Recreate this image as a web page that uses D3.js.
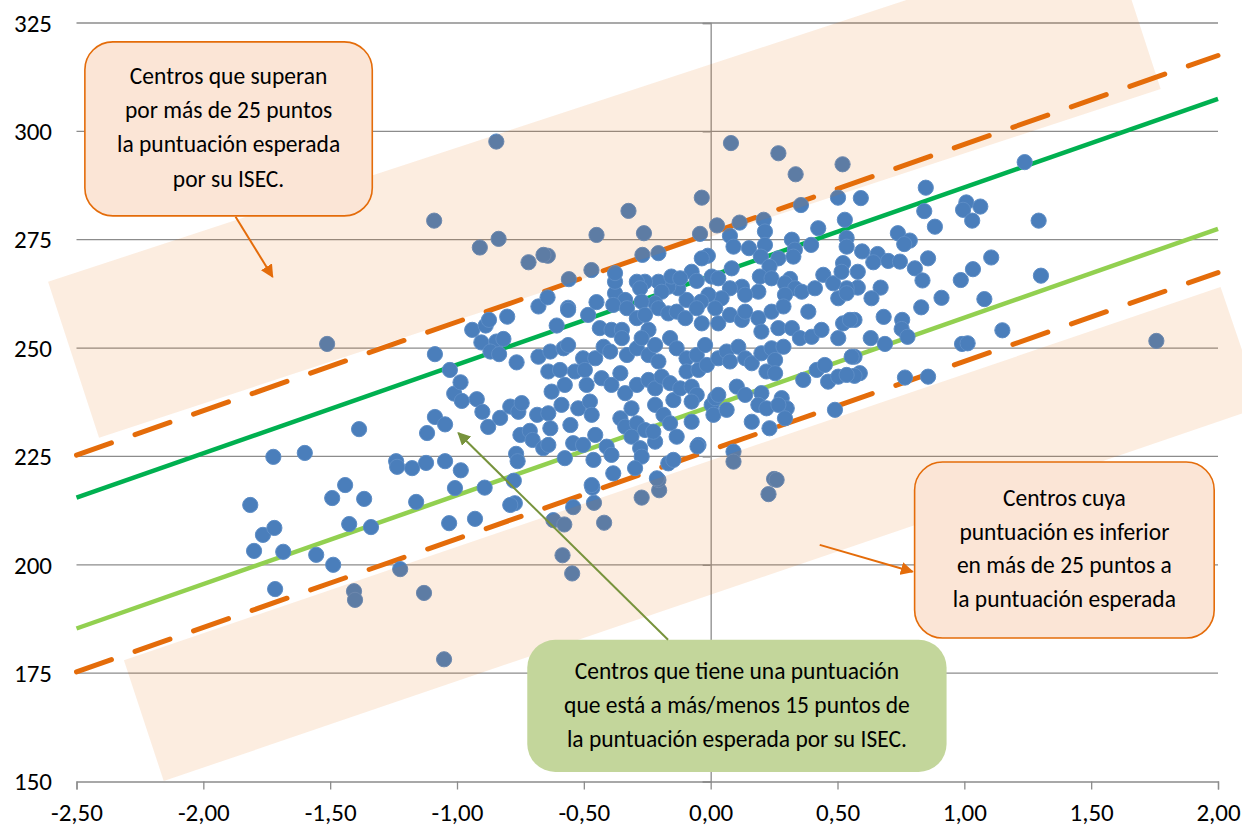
<!DOCTYPE html>
<html><head><meta charset="utf-8">
<script src="https://cdn.jsdelivr.net/npm/d3@7"></script>
<style>
html,body{margin:0;padding:0;background:#fff;}
text{font-family:Carlito,Lato,"Open Sans",sans-serif;fill:#000;}
</style></head>
<body>
<script>
// ---------- DATA ----------
const xTicks = [-2.5,-2.0,-1.5,-1.0,-0.5,0,0.5,1.0,1.5,2.0];
const yTicks = [150,175,200,225,250,275,300,325];

// reference lines: score at ISEC = -2.5 and ISEC = 2.0
const lineX = [-2.5, 2.0];
const upperDashed = [225.3, 317.5];
const darkGreen   = [215.5, 307.5];
const lightGreen  = [185.3, 277.5];
const lowerDashed = [175.3, 267.4];

// centros: [ISEC, puntuación]
const centros = [
[-1.815,213.8],[-1.80,203.2],[-1.765,206.9],[-1.724,224.9],[-1.72,208.5],[-1.717,194.4],[-1.685,203],[-1.6,225.8],[-1.555,202.3],[-1.512,250.95],
[-1.492,215.4],[-1.488,200],[-1.441,218.4],[-1.425,209.4],[-1.406,193.9],[-1.402,191.9],[-1.386,231.3],[-1.366,215.2],[-1.339,208.7],[-1.24,223.9],
[-1.236,222.6],[-1.224,199],[-1.177,222.3],[-1.161,214.5],[-1.13,193.5],[-1.122,223.5],[-1.118,230.4],[-1.09,279.4],[-1.087,248.6],[-1.087,234.1],
[-1.051,178.2],[-1.047,223.9],[-1.047,232.4],[-1.031,209.6],[-1.028,244.95],[-1.008,217.7],[-1.011,239.5],[-0.986,242.1],[-0.985,221.8],[-0.981,237.8],
[-0.922,238.2],[-0.9,235.3],[-0.94,254.2],[-0.904,251.3],[-0.887,255.2],[-0.874,256.5],[-0.802,257.25],[-0.845,251.5],[-0.817,252.1],[-0.868,249.2],
[-0.834,248.6],[-0.765,246.7],[-0.679,248.0],[-0.679,259.6],[-0.877,231.8],[-0.83,233.9],[-0.79,236.5],[-0.758,235.3],[-0.745,237.3],[-0.684,234.6],
[-0.75,229.95],[-0.713,230.9],[-0.702,228.8],[-0.66,226.9],[-0.767,225.6],[-0.761,223.9],[-0.891,217.8],[-0.776,219.4],[-0.772,214.2],[-0.79,213.8],
[-0.929,210.6],
[-0.466,217.8],[-0.542,213.3],[-0.46,214.3],[-0.272,215.5],[-0.203,217.2],[0.228,216.3],[0.25,219.8],[-0.62,210.3],[-0.577,209.3],[-0.42,209.7],
[-0.584,202.2],[-0.546,198.0],
[0.682,257.2],[0.755,256.5],[0.83,259.4],[0.753,254.4],[0.776,252.6],[0.631,252.3],[0.687,250.95],[0.567,248.0],[0.991,250.95],[1.013,251.1],
[1.15,254.1],[1.757,251.65],[0.588,244.2],[0.567,243.6],[0.766,243.2],[0.857,243.4],[0.567,256.5],
[1.238,292.9],[0.848,287.0],[0.592,284.6],[0.842,281.6],[0.884,278.0],[1.008,283.6],[0.995,281.9],[1.063,282.65],[1.031,279.4],[1.293,279.4],
[0.738,276.5],[0.785,274.8],[0.763,274.0],[0.597,272.3],[0.658,271.7],[0.641,269.8],[0.7,270.1],[0.746,269.95],[0.857,270.7],[0.805,268.4],
[0.58,267.6],[1.106,270.9],[1.034,268.2],[0.986,265.7],[0.835,265.6],[1.302,266.7],[0.67,263.95],[0.58,263.95],[0.91,261.6],[1.079,261.3],
[0.634,261.5],
[0.08,297.3],[0.267,294.95],[0.335,290.1],[0.52,292.4],[-0.035,284.7],[-0.324,281.65],[-0.45,276.1],[-0.263,276.5],[-0.042,276.35],[0.025,278.3],
[0.114,278.95],[0.209,279.6],[0.502,284.7],[0.356,283.0],
[-0.642,271.3],[-0.47,268.0],[-0.559,265.9],[-0.269,271.5],[-0.206,271.9],[-0.643,261.7],[-0.45,260.6],[-0.562,259.3],[0.076,275.9],[0.09,273.4],
[0.214,276.9],[0.32,275.0],[0.332,272.7],[0.326,271.1],[0.396,273.8],[0.424,277.65],[0.529,279.6],[0.536,275.4],[0.536,273.4],[0.522,269.6],
[0.536,263.8],[0.151,273.05],[0.214,273.8],[0.198,271.1],[0.267,270.7],[0.232,268.8],[0.083,268.4],[-0.011,271.3],[-0.035,270.7],[-0.075,267.6],
[0.004,266.5],[-0.055,265.5],[0.03,266.1],[0.194,266.5],[0.24,266.1],[0.313,265.95],[0.293,264.95],[0.333,263.8],[0.359,263.0],[0.444,266.9],
[0.483,264.95],[0.411,263.8],[0.293,262.3],[0.188,263.0],[0.123,264.15],[0.136,262.3],[0.076,263.8],[0.043,261.5],[-0.009,262.3],[-0.038,260.7],
[-0.095,261.1],[-0.128,263.8],[-0.167,264.15],[-0.206,265.3],[-0.259,265.3],[-0.291,265.3],[-0.278,263.8],[-0.193,263.0],[-0.219,260.35],[-0.272,260.7],
[-0.377,262.65],[-0.377,265.3],[-0.377,267.3],[-0.337,261.1],[-0.384,259.95],[-0.155,266.5],[-0.12,266.1],[0.516,267.6],[0.503,261.5],[0.536,262.65],
[-0.845,297.65],[-0.836,275.2],[-0.91,273.2],[-0.718,269.8],[-0.659,271.5],
[-0.562,258.8],[-0.483,257.65],[-0.607,255.2],[-0.437,254.6],[-0.391,254.2],[-0.35,254.2],[-0.33,259.2],[-0.291,256.9],[-0.259,257.65],[-0.245,254.2],
[-0.206,259.2],[-0.167,258.0],[-0.134,258.4],[-0.1,256.9],[-0.055,259.2],[-0.035,255.7],[0.018,259.2],[0.03,255.7],[0.076,257.65],[0.123,256.5],
[0.136,258.4],[0.188,256.9],[0.2,253.8],[0.24,258.4],[0.267,254.6],[0.287,259.6],[0.32,254.6],[0.352,252.3],[0.385,258.4],[0.398,252.6],
[0.437,254.2],[0.503,252.3],[0.522,255.7],[0.549,256.5],[0.556,248.0],
[-0.632,249.2],[-0.58,249.95],[-0.562,250.7],[-0.503,247.65],[-0.455,247.65],[-0.422,250.3],[-0.396,249.2],[-0.35,252.3],[-0.33,248.4],[-0.291,249.95],
[-0.272,252.3],[-0.245,248.4],[-0.219,250.7],[-0.206,246.9],[-0.16,252.3],[-0.134,249.95],[-0.095,247.65],[-0.055,248.4],[-0.022,250.7],[-0.095,244.6],
[-0.048,244.95],[-0.015,246.1],[0.03,247.65],[0.063,249.2],[0.076,246.9],[0.109,250.3],[0.136,247.65],[0.162,246.5],[0.2,248.8],[0.24,249.95],
[0.254,247.25],[0.287,250.3],[0.22,244.6],[0.254,244.2],[0.365,242.65],[0.418,244.95],[0.45,246.1],[0.463,242.25],[0.503,243.4],[0.536,243.8],
[-0.64,244.6],[-0.594,244.95],[-0.535,244.6],[-0.496,244.95],[-0.489,241.5],[-0.43,243.05],[-0.391,241.5],[-0.356,244.2],[-0.337,239.6],[-0.291,241.5],
[-0.245,242.65],[-0.219,240.7],[-0.193,243.4],[-0.16,241.9],[-0.147,238.0],[-0.12,240.7],[-0.075,241.1],[-0.055,239.2],[-0.075,237.65],[-0.627,239.95],
[-0.575,241.5],[-0.588,236.9],[-0.522,236.1],[-0.476,237.65],[-0.469,234.6],[-0.64,234.95],[-0.632,231.5],[-0.553,232.25],[-0.64,227.65],[-0.542,228.05],
[-0.503,227.65],[-0.455,229.95],[-0.575,224.6],[-0.462,224.2],[-0.469,218.4],[-0.384,221.1],[-0.41,227.25],[-0.391,225.35],[-0.356,233.8],[-0.312,236.1],
[-0.337,231.85],[-0.291,232.65],[-0.259,231.1],[-0.312,229.55],[-0.278,226.9],[-0.272,224.95],[-0.298,222.3],[-0.219,228.4],[-0.226,230.7],[-0.219,236.9],
[-0.186,234.6],[-0.16,232.65],[-0.134,229.55],[-0.167,223.4],[-0.147,224.2],[-0.206,219.55],[-0.075,233.0],[-0.048,227.65],[0.004,236.9],[0.018,238.45],
[0.011,234.6],[0.063,235.75],[0.03,239.2],[0.103,241.1],[0.136,239.2],[0.2,239.6],[0.188,236.9],[0.22,236.1],[0.28,238.45],[0.3,236.1],
[0.267,236.9],[0.162,233.0],[0.232,231.5],[0.293,233.8],[0.49,235.75],[0.09,226.1],[0.09,223.8],[0.26,219.6],[-0.212,219.95],[-0.052,227.3]
];

// annotation texts
const noteTop = ["Centros que superan","por más de 25 puntos","la puntuación esperada","por su ISEC."];
const noteRight = ["Centros cuya","puntuación es inferior","en más de 25 puntos a","la puntuación esperada"];
const noteMid = ["Centros que tiene una puntuación","que está a más/menos 15 puntos de","la puntuación esperada por su ISEC."];

// shaded bands (corners in data space: ISEC, score)
const bandUpper = [[-2.612,265.3],[1.573,345.7],[1.774,309.8],[-2.411,229.3]];
const bandLower = [[-2.313,178.0],[2.010,264.1],[2.171,236.4],[-2.156,150.1]];

// ---------- CHART ----------
const W = 1242, H = 828;
const FONT = "Carlito,Lato,'Open Sans',sans-serif";
const x = d3.scaleLinear().domain([-2.5, 2.0]).range([76.5, 1218]);
const y = d3.scaleLinear().domain([150, 325]).range([781.5, 23]);
const fmt = v => (v < 0 ? "-" : "") + Math.abs(v).toFixed(2).replace(".", ",");

const svg = d3.select("body").append("svg").attr("width", W).attr("height", H);
const defs = svg.append("defs");
function marker(id, color){
  defs.append("marker").attr("id", id).attr("viewBox","0 0 10 10").attr("refX",9).attr("refY",5)
    .attr("markerWidth",6.5).attr("markerHeight",6.5).attr("markerUnits","strokeWidth").attr("orient","auto")
    .append("path").attr("d","M0,0 L10,5 L0,10 Z").attr("fill", color);
}
marker("arrOrange", "#e46c0a");
marker("arrGreen", "#77933c");

// gridlines
svg.append("g").selectAll("line").data(yTicks.filter(t => t > 150)).join("line")
  .attr("x1", x(-2.5)).attr("x2", x(2.0)).attr("y1", d => y(d)).attr("y2", d => y(d))
  .attr("stroke", "#8c8c8c").attr("stroke-width", 1.3);

// x axis (bottom)
const xAxis = d3.axisBottom(x).tickValues(xTicks).tickFormat(fmt).tickSize(8).tickPadding(14);
const gx = svg.append("g").attr("transform", `translate(0,${y(150)})`).call(xAxis);
gx.select(".domain").attr("stroke", "#8c8c8c").attr("stroke-width", 1.3);
gx.selectAll(".tick line").attr("stroke", "#8c8c8c").attr("stroke-width", 1.3);
gx.selectAll(".tick text").attr("font-size", 25).attr("font-family", FONT).attr("fill","#000");

// y axis line at ISEC = 0 with ticks, labels on the left
const gy = svg.append("g").attr("transform", `translate(${x(0)},0)`)
  .call(d3.axisLeft(y).tickValues(yTicks).tickSize(8).tickFormat(""));
gy.select(".domain").attr("stroke", "#8c8c8c").attr("stroke-width", 1.3);
gy.selectAll(".tick line").attr("stroke", "#8c8c8c").attr("stroke-width", 1.3);
svg.append("g").selectAll("text").data(yTicks).join("text")
  .attr("x", 52).attr("y", d => y(d)).attr("dy", "0.35em").attr("text-anchor", "end")
  .attr("font-size", 25).text(d => d);

// reference lines
function refLine(vals, color, width, dash){
  const l = svg.append("line")
    .attr("x1", x(lineX[0])).attr("y1", y(vals[0]))
    .attr("x2", x(lineX[1])).attr("y2", y(vals[1]))
    .attr("stroke", color).attr("stroke-width", width);
  if (dash) l.attr("stroke-dasharray", dash).attr("stroke-linecap", "round");
  return l;
}
refLine(darkGreen, "#00b050", 4.5);
refLine(lightGreen, "#92d050", 4.5);
refLine(upperDashed, "#e46c0a", 5, "37,25");
refLine(lowerDashed, "#e46c0a", 5, "37,25");

// points
svg.append("g").selectAll("circle").data(centros).join("circle")
  .attr("cx", d => x(d[0])).attr("cy", d => y(d[1])).attr("r", 7.6)
  .attr("fill", "#4a7ebb").attr("stroke", "#5d8dc6").attr("stroke-width", 1);

// shaded bands on top (translucent)
const bandPath = pts => "M" + pts.map(p => `${x(p[0])},${y(p[1])}`).join("L") + "Z";
[bandUpper, bandLower].forEach(b => {
  svg.append("path").attr("d", bandPath(b)).attr("fill", "#e46c0a").attr("fill-opacity", 0.125);
});

// annotations
function note(x0, y0, x1, y1, fill, stroke, lines, firstBase, lh){
  const px0 = x(x0), py0 = y(y0), px1 = x(x1), py1 = y(y1);
  const g = svg.append("g");
  g.append("rect").attr("x", px0).attr("y", py0).attr("width", px1 - px0).attr("height", py1 - py0)
    .attr("rx", 28).attr("ry", 28).attr("fill", fill)
    .attr("stroke", stroke || "none").attr("stroke-width", 1.6);
  g.selectAll("text").data(lines).join("text")
    .attr("x", (px0 + px1) / 2).attr("y", (d, i) => py0 + firstBase + i * lh)
    .attr("text-anchor", "middle").attr("font-size", 23.5).text(d => d);
}
function arrow(a, b, color, id){
  svg.append("line").attr("x1", x(a[0])).attr("y1", y(a[1])).attr("x2", x(b[0])).attr("y2", y(b[1]))
    .attr("stroke", color).attr("stroke-width", 2).attr("marker-end", `url(#${id})`);
}
note(-2.467, 320.65, -1.334, 280.5, "#fbe5d6", "#e46c0a", noteTop, 42, 34.3);
note(0.804, 223.7, 1.985, 183.1, "#fbe5d6", "#e46c0a", noteRight, 44, 33.7);
note(-0.723, 182.7, 0.930, 152.2, "#c3d69b", null, noteMid, 39, 34);
arrow([-1.873, 280.3], [-1.727, 266.45], "#e46c0a", "arrOrange");
arrow([0.430, 204.6], [0.796, 198.4], "#e46c0a", "arrOrange");
arrow([-0.168, 182.7], [-0.995, 230.4], "#77933c", "arrGreen");
</script>
</body></html>
